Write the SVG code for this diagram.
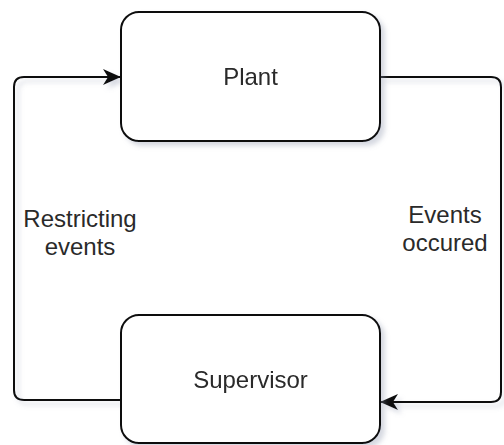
<svg xmlns="http://www.w3.org/2000/svg" width="504" height="445" viewBox="0 0 504 445">
  <style>
    .node rect { fill: #ffffff; stroke: #111111; stroke-width: 2; }
    .label { font-family: "Liberation Sans", Arial, Helvetica, sans-serif; font-size: 24px; fill: #2a2a2a; text-anchor: middle; }
    .edge { fill: none; stroke: #111111; stroke-width: 2; }
  </style>
  <defs>
    <filter id="shadow" x="-10%" y="-10%" width="130%" height="130%">
      <feDropShadow dx="4" dy="4" stdDeviation="2.5" flood-color="#8890a8" flood-opacity="0.35"/>
    </filter>
    <marker id="arrow" viewBox="0 0 18 16" refX="17" refY="8" markerWidth="18" markerHeight="16" markerUnits="userSpaceOnUse" orient="auto">
      <path d="M0,0 L18,8 L0,16 L5,8 Z" fill="#111111"/>
    </marker>
  </defs>

  <g id="connectors" filter="url(#shadow)">
    <!-- Supervisor back to Plant, along the left side -->
    <path class="edge" d="M121,400 L24,400 Q14,400 14,390 L14,87 Q14,77 24,77 L120,77" marker-end="url(#arrow)"/>
    <!-- Plant down to Supervisor, along the right side -->
    <path class="edge" d="M380,77 L491,77 Q501,77 501,87 L501,392 Q501,402 491,402 L381,402" marker-end="url(#arrow)"/>
  </g>

  <g id="plant" class="node" filter="url(#shadow)">
    <rect x="121" y="12" width="259" height="129" rx="18" ry="18"/>
    <text class="label" x="250.5" y="85">Plant</text>
  </g>

  <g id="supervisor" class="node" filter="url(#shadow)">
    <rect x="121" y="315" width="259" height="128" rx="18" ry="18"/>
    <text class="label" x="250.5" y="388">Supervisor</text>
  </g>

  <g id="edge-labels">
    <text class="label" x="80" y="227">Restricting</text>
    <text class="label" x="80" y="255">events</text>
    <text class="label" x="445" y="223">Events</text>
    <text class="label" x="445" y="251">occured</text>
  </g>
</svg>
